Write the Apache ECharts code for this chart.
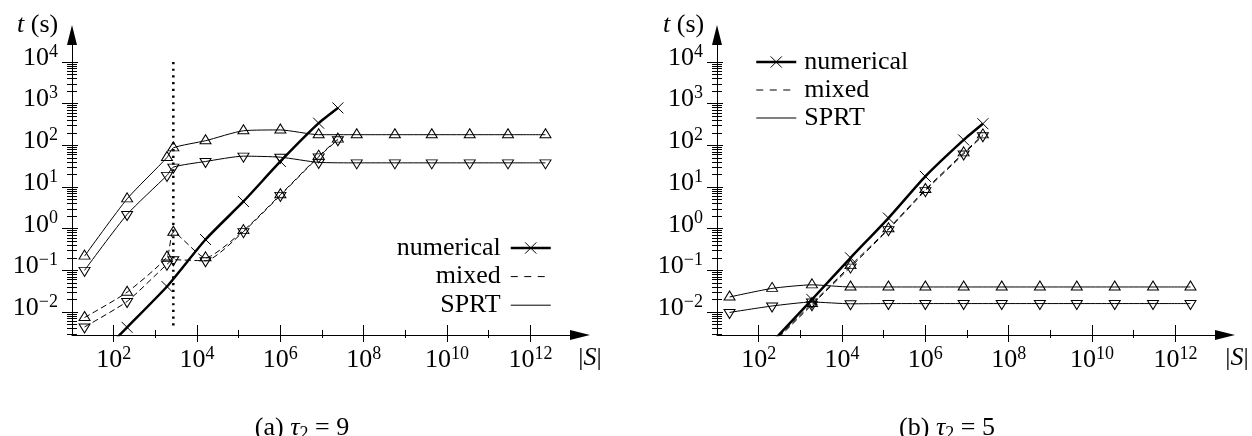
<!DOCTYPE html>
<html><head><meta charset="utf-8">
<script src="https://cdn.jsdelivr.net/npm/echarts@6/dist/echarts.min.js"></script>
<style>html,body{margin:0;padding:0;background:#fff}#c{width:1252px;height:436px}</style>
</head><body><div id="c"></div>
<script>
// ---------------- data (|S| on x, t in seconds on y) ----------------
// panel (a) tau2 = 9
const sprtSizesA  = [20, 210, 1900, 2700, 16000, 1.3e5, 1.0e6, 8.3e6, 6.8e7, 5.6e8, 4.3e9, 3.5e10, 2.9e11, 2.3e12];
const sprtUpA     = [0.22, 5.2, 51, 87, 129, 224, 234, 180, 180, 180, 180, 180, 180, 180];
const sprtDownA   = [0.10, 2.2, 19, 30, 41, 55, 52, 39, 38, 38, 38, 38, 38, 38];
const mixedSizesA = [20, 210, 1900, 2700, 16000, 1.3e5, 1.0e6, 8.3e6, 2.4e7];
const mixedUpA    = [0.0074, 0.030, 0.21, 0.82, 0.20, 0.90, 6.5, 55, 141];
const mixedDownA  = [0.0044, 0.018, 0.14, 0.18, 0.17, 0.85, 6.3, 53, 136];
const numSizesA   = [20, 210, 1900, 16000, 1.3e5, 1.0e6, 8.3e6, 2.4e7];
const numA        = [0.0004, 0.0043, 0.041, 0.55, 4.5, 41, 340, 790];
const thresholdSizeA = [2700, 2700];
const thresholdTimeA = [10000, 0.0042];
// panel (b) tau2 = 5
const sprtSizesB  = [20, 210, 1900, 16000, 1.3e5, 1.0e6, 8.3e6, 6.8e7, 5.6e8, 4.3e9, 3.5e10, 2.9e11, 2.3e12];
const sprtUpB     = [0.023, 0.037, 0.045, 0.040, 0.040, 0.040, 0.040, 0.040, 0.040, 0.040, 0.040, 0.040, 0.040];
const sprtDownB   = [0.0098, 0.014, 0.0174, 0.0158, 0.016, 0.016, 0.016, 0.016, 0.016, 0.016, 0.016, 0.016, 0.016];
const mixedSizesB = [210, 1900, 16000, 1.3e5, 1.0e6, 8.3e6, 2.4e7];
const mixedUpB    = [0.0018, 0.016, 0.13, 1.0, 8.7, 66, 178];
const mixedDownB  = [0.0017, 0.015, 0.12, 0.95, 8.2, 62, 170];
const numSizesB   = [210, 1900, 16000, 1.3e5, 1.0e6, 8.3e6, 2.4e7];
const numB        = [0.0019, 0.020, 0.20, 1.8, 18, 135, 330];
// ticks
const xTickValues  = [1e2, 1e4, 1e6, 1e8, 1e10, 1e12];
const xMinorValues = [1e3, 1e5, 1e7, 1e9, 1e11];
const yTickValues  = [1e-2, 1e-1, 1, 10, 100, 1e3, 1e4];
const legendNames  = ['numerical', 'mixed', 'SPRT'];
const captions     = ['(a) {it|τ}{sub|2} = 9', '(b) {it|τ}{sub|5}'];
// ---------------------------------------------------------------------

const X_MIN = 10, X_MAX = Math.pow(10, 13.19);
const Y_MIN = Math.pow(10, -2.55), Y_MAX = Math.pow(10, 4.647);
const yMinorValues = [];
for (let n = -3; n <= 3; n++) for (let k = 2; k <= 9; k++) { const v = k * Math.pow(10, n); if (v >= Y_MIN) yMinorValues.push(v); }

const FONT = '"Liberation Serif", "Times New Roman", serif';
const CROSS = 'path://M0,0L10,10M10,0L0,10';
const zip = (xs, ys) => xs.map((x, i) => [x, ys[i]]);
function powLabel(v) { const e = Math.round(Math.log10(v)); return '10{s|' + (e < 0 ? '\u2212' + (-e) : e) + '}'; }
const labelRich = { s: { fontSize: 18, fontFamily: FONT, color: '#000', verticalAlign: 'top', lineHeight: 18 } };

function axisSet(dim, g) {
  const isX = dim === 'x';
  const base = {
    type: 'log', logBase: 10, gridIndex: g,
    min: isX ? X_MIN : Y_MIN, max: isX ? X_MAX : Y_MAX,
    position: isX ? 'bottom' : 'left',
    splitLine: { show: false }, minorTick: { show: false }, minorSplitLine: { show: false },
    silent: true
  };
  const major = isX ? xTickValues : yTickValues;
  const minor = isX ? xMinorValues : yMinorValues;
  const tick = (inside, len, vals) => ({ show: true, inside: inside, length: len, customValues: vals, lineStyle: { color: '#000', width: 1 } });
  const off = { axisLine: { show: false, onZero: false }, axisLabel: { show: false } };
  return [
    Object.assign({}, base, {
      axisLine: { show: true, onZero: false, symbol: ['none', 'triangle'], symbolSize: [10, 20], lineStyle: { color: '#000', width: 1 } },
      axisTick: tick(false, isX ? 7 : 10, major),
      axisLabel: {
        show: true, customValues: major, formatter: powLabel, color: '#000',
        fontFamily: FONT, fontSize: 26, lineHeight: 30,
        margin: isX ? 10 : 14, rich: labelRich,
        padding: isX ? 0 : [0, 0, 8, 0]
      }
    }),
    Object.assign({}, base, off, { axisTick: tick(true, isX ? 10 : 6, major) }),
    Object.assign({}, base, off, { axisTick: tick(true, 5, minor) }),
    Object.assign({}, base, off, { axisTick: tick(false, isX ? 3 : 5, minor) })
  ];
}

function lineSeries(name, xs, ys, g, kind, marker) {
  const s = {
    type: 'line', name: name, xAxisIndex: g * 4, yAxisIndex: g * 4,
    data: zip(xs, ys), smooth: 0.2, clip: true, animation: false, silent: true,
    emphasis: { disabled: true },
    itemStyle: { color: 'transparent', borderColor: '#000', borderWidth: 1 },
    lineStyle: { color: '#000', width: 1, type: 'solid' },
    showSymbol: true, z: 3
  };
  if (kind === 'num') { s.lineStyle.width = 2.5; s.z = 4; }
  if (kind === 'mixed') s.lineStyle.type = [6, 3.5];
  if (marker === 'cross') { s.symbol = CROSS; s.symbolSize = 11; }
  if (marker === 'up') { s.symbol = 'triangle'; s.symbolSize = [11, 9]; s.symbolOffset = [0, -1.5]; }
  if (marker === 'down') { s.symbol = 'triangle'; s.symbolSize = [11, 9]; s.symbolRotate = 180; s.symbolOffset = [0, 1.5]; }
  return s;
}

const series = [
  lineSeries('SPRT', sprtSizesA, sprtUpA, 0, 'sprt', 'up'),
  lineSeries('SPRT', sprtSizesA, sprtDownA, 0, 'sprt', 'down'),
  lineSeries('mixed', mixedSizesA, mixedUpA, 0, 'mixed', 'up'),
  lineSeries('mixed', mixedSizesA, mixedDownA, 0, 'mixed', 'down'),
  lineSeries('numerical', numSizesA, numA, 0, 'num', 'cross'),
  {
    type: 'line', name: 'threshold', xAxisIndex: 0, yAxisIndex: 0, data: zip(thresholdSizeA, thresholdTimeA),
    symbol: 'none', silent: true, animation: false, z: 2,
    lineStyle: { color: '#000', width: 2.5, type: [2.2, 4.5], cap: 'butt' }
  },
  lineSeries('SPRT', sprtSizesB, sprtUpB, 1, 'sprt', 'up'),
  lineSeries('SPRT', sprtSizesB, sprtDownB, 1, 'sprt', 'down'),
  lineSeries('mixed', mixedSizesB, mixedUpB, 1, 'mixed', 'up'),
  lineSeries('mixed', mixedSizesB, mixedDownB, 1, 'mixed', 'down'),
  lineSeries('numerical', numSizesB, numB, 1, 'num', 'cross')
];

function legendData(dash) {
  return [
    { name: legendNames[0], itemStyle: { color: 'transparent', borderColor: '#000', borderWidth: 1 }, lineStyle: { width: 2.5, color: '#000', type: 'solid' } },
    { name: legendNames[1], itemStyle: { opacity: 0 }, lineStyle: { width: 1, color: '#000', type: dash } },
    { name: legendNames[2], itemStyle: { opacity: 0 }, lineStyle: { width: 1, color: '#000', type: 'solid' } }
  ];
}
const legendText = (lh, pad) => ({ fontFamily: FONT, fontSize: 26, lineHeight: lh, color: '#000', padding: pad });

const textStyleBase = { fill: '#000', fontFamily: FONT, fontSize: 26 };
function gText(x, y, text, align, rich) {
  return { type: 'text', x: x, y: y, silent: true,
    style: Object.assign({}, textStyleBase, { text: text, align: align, verticalAlign: 'middle', rich: rich }) };
}
const italicRich = { i: { fontStyle: 'italic', fontFamily: FONT, fontSize: 26, fill: '#000' } };
const capRich = {
  it: { fontStyle: 'italic', fontFamily: FONT, fontSize: 26, fill: '#000', lineHeight: 30 },
  sub: { fontFamily: FONT, fontSize: 18, fill: '#000', verticalAlign: 'bottom', lineHeight: 18 }
};

const option = {
  animation: false,
  backgroundColor: '#fff',
  grid: [
    { left: 72, right: 672, top: 35, bottom: 101, containLabel: false },
    { left: 717, right: 27, top: 35, bottom: 101, containLabel: false }
  ],
  xAxis: axisSet('x', 0).concat(axisSet('x', 1)),
  yAxis: axisSet('y', 0).concat(axisSet('y', 1)),
  legend: [
    { orient: 'vertical', right: 700, top: 234, align: 'right', padding: 0, itemWidth: 40, itemHeight: 14, itemGap: 0.6,
      selectedMode: false, textStyle: legendText(28, [0, 5, 0, 0]), data: legendData([7, 6.5]) },
    { orient: 'vertical', left: 755, top: 48, align: 'left', padding: 0, itemWidth: 40, itemHeight: 14, itemGap: 0,
      selectedMode: false, textStyle: legendText(28, [0, 0, 0, 3]), data: legendData([7, 6.5]) }
  ],
  graphic: [
    gText(17, 25, '{i|t} (s)', 'left', italicRich),
    gText(663, 25, '{i|t} (s)', 'left', italicRich),
    gText(590, 358, '|{i|S}|', 'center', italicRich),
    gText(1237, 358, '|{i|S}|', 'center', italicRich),
    gText(302, 428, '(a) {it|τ}{sub|2} = 9', 'center', capRich),
    gText(947, 428, '(b) {it|τ}{sub|2} = 5', 'center', capRich)
  ],
  series: series
};

const chart = echarts.init(document.getElementById('c'), null, { renderer: 'canvas' });
chart.setOption(option);
</script>
</body></html>
